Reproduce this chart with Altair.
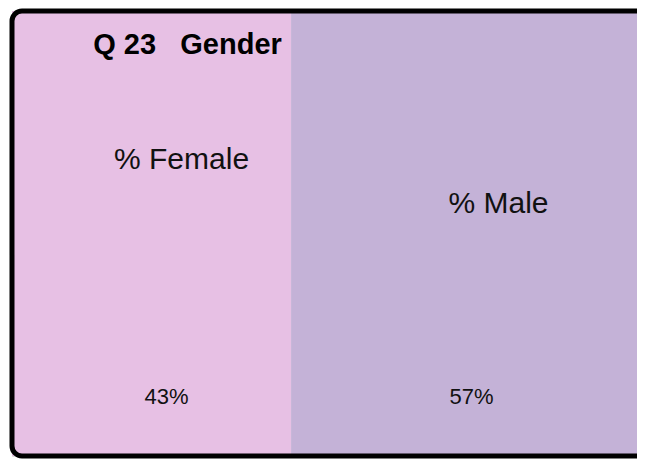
import altair as alt
import pandas as pd

# data
categories = ["% Female", "% Male"]
shares = [43, 57]
pct_labels = ["43%", "57%"]
title_text = "Q 23\u00a0\u00a0\u00a0Gender"

colors = ["#E7C0E4", "#C4B2D7"]

starts = [sum(shares[:i]) for i in range(len(shares))]
ends = [s + v for s, v in zip(starts, shares)]
df = pd.DataFrame({
    "category": categories,
    "share": shares,
    "pct": pct_labels,
    "start": starts,
    "end": ends,
    "mid": [(s + e) / 2 for s, e in zip(starts, ends)],
})

W, H = 625, 445
FULL = 649  # pixel span of the 0-100 scale (right part runs off the page)
FONT = "Liberation Sans"

xscale = alt.Scale(domain=[0, 100], range=[0, FULL], nice=False, zero=False)

base = alt.Chart(df)

rects = base.mark_rect().encode(
    x=alt.X("start:Q", scale=xscale, axis=None),
    x2="end:Q",
    y=alt.value(0),
    y2=alt.value(H),
    color=alt.Color("category:N", scale=alt.Scale(domain=categories, range=colors), legend=None),
)

frame = base.transform_filter(alt.datum.category == "% Female").mark_rect(
    filled=False, stroke="#000000", strokeWidth=5, cornerRadius=10,
).encode(
    x=alt.value(0), x2=alt.value(FULL + 20), y=alt.value(0), y2=alt.value(H),
)

def cat_text(cat, field, dx, ypix, size):
    return base.transform_filter(alt.datum.category == cat).mark_text(
        font=FONT, fontSize=size, color="#111111", align="center",
        baseline="alphabetic", dx=dx,
    ).encode(
        x=alt.X("mid:Q", scale=xscale, axis=None),
        y=alt.value(ypix),
        text=f"{field}:N",
    )

title = base.transform_filter(alt.datum.category == "% Female").mark_text(
    font=FONT, fontSize=29, fontWeight="bold", color="#000000",
    align="center", baseline="alphabetic", dx=36,
).encode(
    x=alt.X("mid:Q", scale=xscale, axis=None),
    y=alt.value(43),
    text=alt.value(title_text),
)

layers = [
    rects,
    cat_text("% Female", "category", 30, 158, 30),
    cat_text("% Male", "category", 22.5, 202, 30),
    cat_text("% Female", "pct", 15, 393, 22),
    cat_text("% Male", "pct", -4.5, 393, 22),
    title,
    frame,
]

chart = alt.layer(*layers).properties(
    width=W, height=H,
    autosize="none",
    padding={"left": 4, "top": 3, "right": 0, "bottom": 3},
).configure_view(
    strokeWidth=0,
).configure(background="white")

chart.save("out.html", embed_options={"renderer": "svg", "actions": False})
